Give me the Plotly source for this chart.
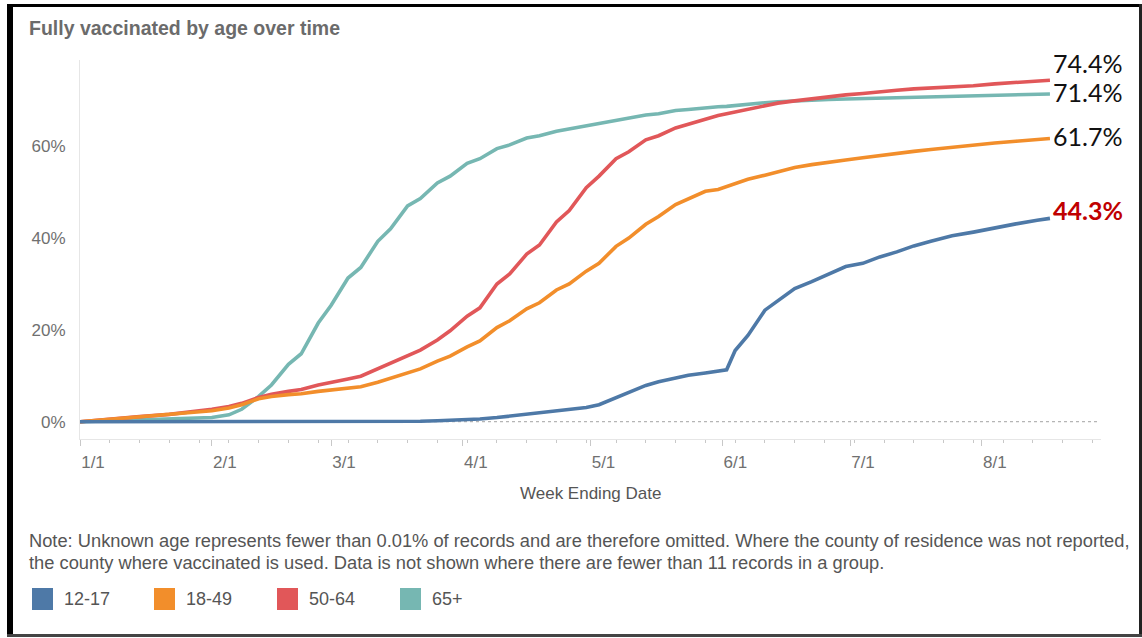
import plotly.graph_objects as go

# ---------------- data ----------------
dates = ["2021-01-01","2021-01-08","2021-01-15","2021-01-22","2021-01-29","2021-02-01","2021-02-05","2021-02-08",
         "2021-02-12","2021-02-15","2021-02-19","2021-02-22","2021-02-26","2021-03-01","2021-03-05","2021-03-08",
         "2021-03-12","2021-03-15","2021-03-19","2021-03-22","2021-03-26","2021-03-29","2021-04-02","2021-04-05",
         "2021-04-09","2021-04-12","2021-04-16","2021-04-19","2021-04-23","2021-04-26","2021-04-30","2021-05-03",
         "2021-05-07","2021-05-10","2021-05-14","2021-05-17","2021-05-21","2021-05-24","2021-05-28","2021-05-31",
         "2021-06-02","2021-06-04","2021-06-07","2021-06-11","2021-06-14","2021-06-18","2021-06-22","2021-06-26",
         "2021-06-30","2021-07-04","2021-07-08","2021-07-12","2021-07-16","2021-07-20","2021-07-25","2021-07-30",
         "2021-08-04","2021-08-09","2021-08-14","2021-08-17"]

age_65_plus = [0.0,0.2,0.4,0.6,0.7,0.9,1.5,2.7,5.5,8.0,12.5,14.8,21.5,25.3,31.3,33.6,
               39.3,42.0,47.0,48.6,52.0,53.5,56.3,57.3,59.5,60.3,61.8,62.3,63.3,63.8,64.4,65.0,
               65.7,66.2,66.8,67.1,67.8,68.0,68.4,68.6,68.7,68.9,69.2,69.5,69.7,69.9,70.1,70.2,
               70.3,70.4,70.5,70.6,70.7,70.8,70.9,71.0,71.1,71.2,71.3,71.4]

age_50_64 = [0.0,0.6,1.1,1.6,2.3,2.7,3.3,4.0,5.3,6.0,6.6,7.0,8.0,8.5,9.3,9.9,
             11.5,12.8,14.5,15.6,17.8,19.8,23.0,24.8,30.0,32.2,36.5,38.5,43.5,46.0,51.0,53.5,
             57.3,58.8,61.4,62.3,64.0,64.8,66.0,66.7,67.1,67.5,68.2,68.9,69.4,69.9,70.4,70.8,
             71.2,71.5,71.9,72.2,72.5,72.7,72.9,73.2,73.6,73.9,74.2,74.4]

age_18_49 = [0.0,0.5,1.0,1.5,2.0,2.4,3.0,3.7,5.0,5.5,5.9,6.1,6.6,6.9,7.2,7.6,
             8.6,9.5,10.5,11.5,13.2,14.3,16.3,17.6,20.5,22.0,24.6,25.9,28.7,30.0,32.8,34.5,
             38.2,40.0,43.0,44.7,47.3,48.6,50.2,50.6,51.2,51.9,52.8,53.7,54.4,55.4,56.0,56.6,
             57.0,57.5,58.0,58.5,58.9,59.3,59.8,60.2,60.7,61.1,61.5,61.7]

age_12_17 = [0.0,0.0,0.0,0.0,0.0,0.0,0.0,0.0,0.0,0.0,0.0,0.0,0.0,0.0,0.0,0.0,
             0.0,0.1,0.1,0.1,0.2,0.3,0.4,0.6,0.9,1.2,1.6,2.0,2.4,2.7,3.1,3.7,
             5.2,6.3,7.9,8.7,9.6,10.1,10.6,11.0,11.3,15.5,18.8,24.3,26.3,29.0,30.5,32.2,
             33.8,34.5,35.9,37.0,38.3,39.3,40.5,41.3,42.3,43.1,43.9,44.3]

series_names = ["12-17", "18-49", "50-64", "65+"]
series_values = [age_12_17, age_18_49, age_50_64, age_65_plus]
series_colors = ["#4e79a7", "#f28e2b", "#e15759", "#76b7b2"]
end_labels = ["44.3%", "61.7%", "74.4%", "71.4%"]
y_tick_vals = [0, 20, 40, 60]
y_tick_text = ["0%", "20%", "40%", "60%"]

title_text = "Fully vaccinated by age over time"
x_title = "Week Ending Date"
note_line1 = ("Note: Unknown age represents fewer than 0.01% of records and are therefore omitted. "
              "Where the county of residence was not reported,")
note_line2 = ("the county where vaccinated is used. Data is not shown where there are fewer than "
              "11 records in a group.")

# ---------------- layout geometry (pixels) ----------------
W, H = 1142, 638
L, R, T, B = 80, 1101, 60, 439
PW, PH = R - L, B - T


def px(x):
    return (x - L) / PW


def py(y):
    return (B - y) / PH


fig = go.Figure()

# draw order: teal, red, orange, blue (blue on top)
for idx in [3, 2, 1, 0]:
    fig.add_trace(go.Scatter(
        x=dates, y=series_values[idx], mode="lines", name=series_names[idx],
        line=dict(color=series_colors[idx], width=3.6),
        hoverinfo="skip", showlegend=False))

shapes = []
# dotted zero line
shapes.append(dict(type="line", xref="paper", yref="y", x0=0, x1=px(1098), y0=0, y1=0,
                   line=dict(color="#b5b5b5", width=1.3, dash="dot"), layer="below"))
# frame borders
shapes.append(dict(type="rect", xref="paper", yref="paper", x0=px(7), x1=px(13), y0=py(637), y1=py(4),
                   fillcolor="#000000", line=dict(width=0)))
shapes.append(dict(type="rect", xref="paper", yref="paper", x0=px(7), x1=px(1142), y0=py(7), y1=py(4),
                   fillcolor="#000000", line=dict(width=0)))
shapes.append(dict(type="rect", xref="paper", yref="paper", x0=px(1139), x1=px(1142), y0=py(637), y1=py(4),
                   fillcolor="#222222", line=dict(width=0)))
shapes.append(dict(type="rect", xref="paper", yref="paper", x0=px(7), x1=px(1142), y0=py(637), y1=py(634),
                   fillcolor="#444444", line=dict(width=0)))

annotations = []
# title
annotations.append(dict(text="<b>" + title_text + "</b>", xref="paper", yref="paper",
                        x=px(27), y=py(28), xanchor="left", yanchor="middle", showarrow=False,
                        font=dict(family="Liberation Sans, Arial", size=19.5, color="#6b6b6b")))
# x axis title
annotations.append(dict(text=x_title, xref="paper", yref="paper", x=px(590), y=py(493),
                        xanchor="center", yanchor="middle", showarrow=False,
                        font=dict(family="Liberation Sans, Arial", size=17, color="#555555")))
# notes
annotations.append(dict(text=note_line1, xref="paper", yref="paper", x=px(27), y=py(540),
                        xanchor="left", yanchor="middle", showarrow=False,
                        font=dict(family="Liberation Sans, Arial", size=18.3, color="#555555")))
annotations.append(dict(text=note_line2, xref="paper", yref="paper", x=px(27), y=py(562),
                        xanchor="left", yanchor="middle", showarrow=False,
                        font=dict(family="Liberation Sans, Arial", size=18.3, color="#555555")))

# legend (squares + labels)
leg_sq_x = [32, 154, 277, 400]
for i in range(4):
    shapes.append(dict(type="rect", xref="paper", yref="paper",
                       x0=px(leg_sq_x[i]), x1=px(leg_sq_x[i] + 21), y0=py(610), y1=py(588),
                       fillcolor=series_colors[i], line=dict(width=0)))
    annotations.append(dict(text=series_names[i], xref="paper", yref="paper",
                            x=px(leg_sq_x[i] + 30), y=py(599), xanchor="left", yanchor="middle",
                            showarrow=False,
                            font=dict(family="Liberation Sans, Arial", size=18, color="#555555")))

# end value labels
end_yshift = [8, 2.5, 17, 1.5]
for i in range(4):
    is_hl = (i == 0)
    annotations.append(dict(
        text=("<b>" + end_labels[i] + "</b>") if is_hl else end_labels[i],
        x=dates[-1], y=series_values[i][-1], xref="x", yref="y",
        xanchor="left", yanchor="middle", xshift=1, yshift=end_yshift[i], showarrow=False,
        font=dict(family="Lato, Noto Sans, sans-serif", size=25,
                  color="#c00000" if is_hl else "#111111")))

fig.update_layout(
    width=W, height=H,
    margin=dict(l=L, r=W - R, t=T, b=H - B, pad=0),
    paper_bgcolor="white", plot_bgcolor="white",
    shapes=shapes, annotations=annotations,
    showlegend=False,
    hovermode=False,
)

fig.update_xaxes(
    type="date", range=["2021-01-01", "2021-08-29"],
    tick0="2021-01-01", dtick="M1", tickformat="%-m/%-d",
    ticks="outside", ticklen=6, tickwidth=1, tickcolor="#c8c8c8",
    showline=True, linecolor="#e6e6e6", linewidth=1,
    showgrid=False, zeroline=False,
    tickfont=dict(family="Liberation Sans, Arial", size=17, color="#707070"),
    ticklabelshift=13, ticklabelstandoff=2,
    minor=dict(tick0="2021-01-01", dtick=7 * 86400000, ticks="outside", ticklen=3,
               tickcolor="#c8c8c8", showgrid=False),
    fixedrange=True,
)

fig.update_yaxes(
    range=[-3.77, 78.8],
    tickmode="array", tickvals=y_tick_vals, ticktext=y_tick_text,
    ticks="", showline=True, linecolor="#e6e6e6", linewidth=1,
    showgrid=False, zeroline=False,
    tickfont=dict(family="Liberation Sans, Arial", size=17, color="#707070"),
    ticklabelstandoff=10,
    fixedrange=True,
)

fig.write_html("out.html", config={"displayModeBar": False},
               post_script="document.body.style.margin='0';document.body.style.overflow='hidden';")
